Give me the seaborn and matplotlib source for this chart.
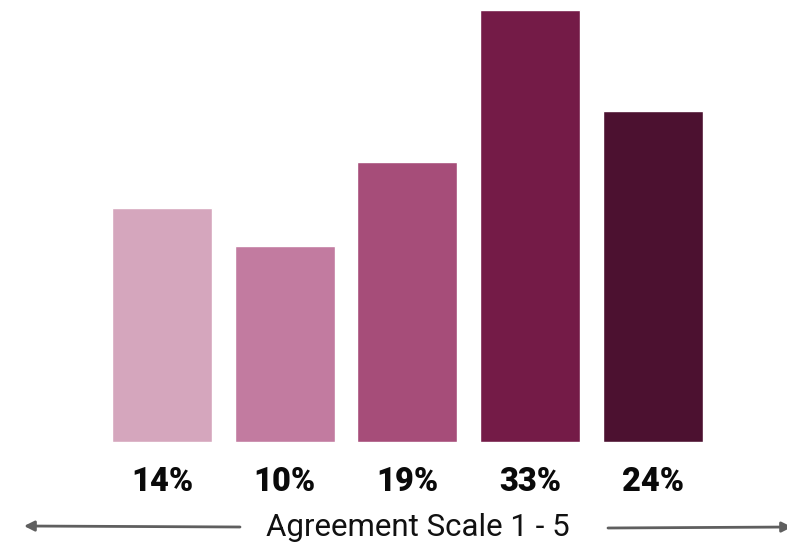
import matplotlib
matplotlib.use("Agg")
import matplotlib.pyplot as plt
import seaborn as sns
import pandas as pd

# data
categories = ["1", "2", "3", "4", "5"]
bar_heights = [17.9, 15.0, 21.4, 33.0, 25.3]   # drawn heights (bars are not zero-based in the source)
value_labels = ["14%", "10%", "19%", "33%", "24%"]
bar_colors = ["#d5a6bd", "#c27ba0", "#a64d79", "#741b47", "#4c1130"]
axis_title = "Agreement Scale 1 - 5"

df = pd.DataFrame({"scale": categories, "height": bar_heights})

sns.set_theme(style="white")
plt.rcParams["font.family"] = ["Roboto", "DejaVu Sans"]

W, H = 787, 549
fig = plt.figure(figsize=(W / 100, H / 100), dpi=100)
ax = fig.add_axes([100.6 / W, (H - 442) / H, 613.75 / W, 432 / H])

sns.barplot(data=df, x="scale", y="height", hue="scale", palette=bar_colors,
            legend=False, width=0.815, saturation=1, ax=ax)

ax.set_xlim(-0.5, 4.5)
ax.set_ylim(0, 33)
ax.axis("off")

# percentage labels under the bars
for i, lab in enumerate(value_labels):
    ax.text(i, -40 / 432 * 33, lab, ha="center", va="center",
            fontsize=23.5, fontweight="heavy", color="#0a0a0a")

# axis caption with arrows
fig.text(418 / W, (H - 527) / H, axis_title, ha="center", va="center",
         fontsize=22.5, color="#111111")

arrow = dict(arrowstyle="-|>", color="#5f5f5f", lw=2, mutation_scale=15,
             shrinkA=0, shrinkB=0)
ax.annotate("", xy=(24, H - 526), xytext=(240, H - 527),
            xycoords="figure pixels", textcoords="figure pixels",
            arrowprops=arrow, annotation_clip=False)
ax.annotate("", xy=(792, H - 527), xytext=(608, H - 528),
            xycoords="figure pixels", textcoords="figure pixels",
            arrowprops=arrow, annotation_clip=False)

fig.savefig("out.png", dpi=100)
